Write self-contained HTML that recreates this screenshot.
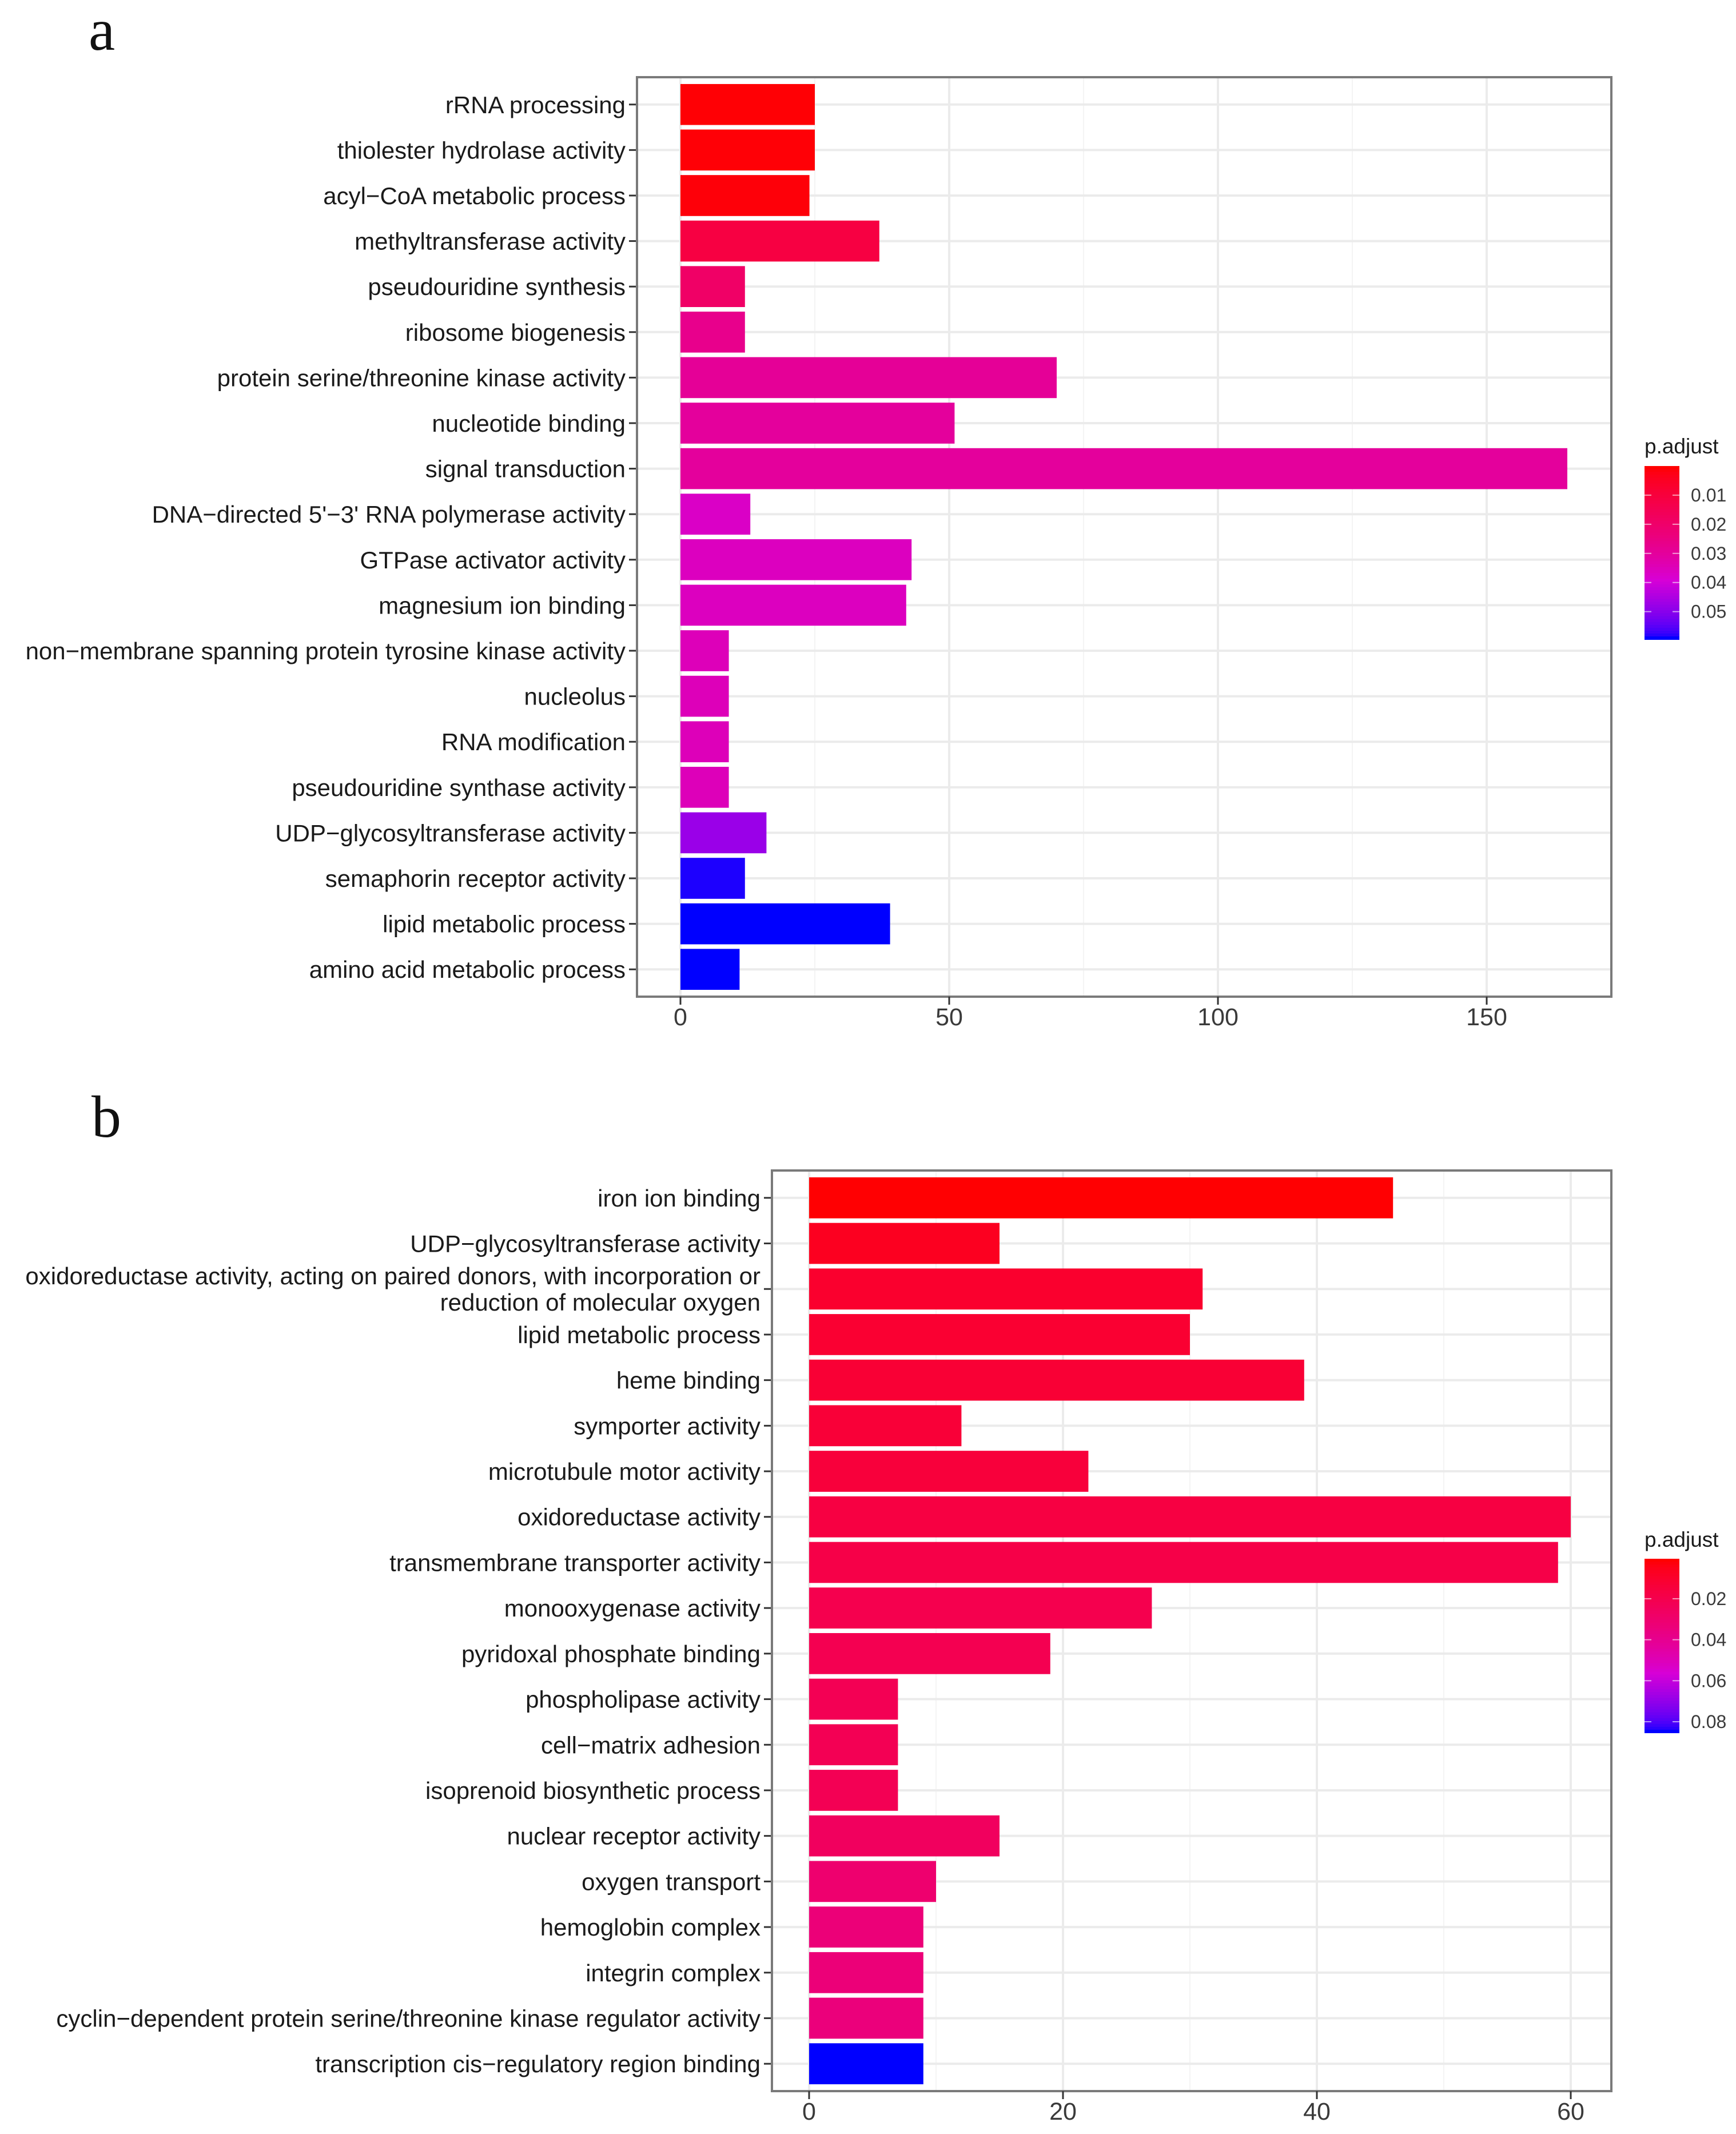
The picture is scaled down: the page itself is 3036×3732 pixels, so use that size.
<!DOCTYPE html>
<html><head><meta charset="utf-8">
<style>
html,body{margin:0;padding:0;background:#fff;}
svg{display:block;}
text{font-family:"Liberation Sans",Arial,sans-serif;}
</style></head>
<body>
<svg id="chart" width="3036" height="3732" viewBox="0 0 3036 3732" xmlns="http://www.w3.org/2000/svg">
<rect x="0" y="0" width="3036" height="3732" fill="#fff"/>
<text x="155" y="87" font-size="104" fill="#111" style="font-family:'Liberation Serif',serif">a</text>
<text x="160" y="1988" font-size="104" fill="#111" style="font-family:'Liberation Serif',serif">b</text>
</svg>
<script>
// ---- Panel a data ----
const catsA = ["rRNA processing","thiolester hydrolase activity","acyl\u2212CoA metabolic process","methyltransferase activity","pseudouridine synthesis","ribosome biogenesis","protein serine/threonine kinase activity","nucleotide binding","signal transduction","DNA\u2212directed 5'\u22123' RNA polymerase activity","GTPase activator activity","magnesium ion binding","non\u2212membrane spanning protein tyrosine kinase activity","nucleolus","RNA modification","pseudouridine synthase activity","UDP\u2212glycosyltransferase activity","semaphorin receptor activity","lipid metabolic process","amino acid metabolic process"];
const countsA = [25,25,24,37,12,12,70,51,165,13,43,42,9,9,9,9,16,12,39,11];
const padjA = [0.0005,0.0006,0.0008,0.011,0.019,0.027,0.029,0.030,0.030,0.037,0.036,0.036,0.035,0.035,0.035,0.035,0.048,0.059,0.0595,0.0595];
const xTicksA = [0,50,100,150];
const legendTicksA = [0.01,0.02,0.03,0.04,0.05];

// ---- Panel b data ----
const catsB = ["iron ion binding","UDP\u2212glycosyltransferase activity","oxidoreductase activity, acting on paired donors, with incorporation or|reduction of molecular oxygen","lipid metabolic process","heme binding","symporter activity","microtubule motor activity","oxidoreductase activity","transmembrane transporter activity","monooxygenase activity","pyridoxal phosphate binding","phospholipase activity","cell\u2212matrix adhesion","isoprenoid biosynthetic process","nuclear receptor activity","oxygen transport","hemoglobin complex","integrin complex","cyclin\u2212dependent protein serine/threonine kinase regulator activity","transcription cis\u2212regulatory region binding"];
const countsB = [46,15,31,30,39,12,22,60,59,27,19,7,7,7,15,10,9,9,9,9];
const padjB = [0.0008,0.006,0.010,0.011,0.012,0.013,0.014,0.016,0.018,0.020,0.021,0.022,0.022,0.022,0.025,0.030,0.033,0.033,0.034,0.0853];
const xTicksB = [0,20,40,60];
const legendTicksB = [0.02,0.04,0.06,0.08];

const NS = "http://www.w3.org/2000/svg";
const svg = document.getElementById('chart');
function mk(tag, attrs, parent){
  const e = document.createElementNS(NS, tag);
  for (const k in attrs) e.setAttribute(k, attrs[k]);
  (parent||svg).appendChild(e);
  return e;
}
function srgbToLin(c){c/=255;return c<=0.04045?c/12.92:Math.pow((c+0.055)/1.055,2.4);}
function linToSrgb(c){c=c<=0.0031308?12.92*c:1.055*Math.pow(c,1/2.4)-0.055;return Math.max(0,Math.min(1,c))*255;}
function rgb2lab(r,g,b){r=srgbToLin(r);g=srgbToLin(g);b=srgbToLin(b);
  let X=(r*0.4124+g*0.3576+b*0.1805)/0.95047,Y=(r*0.2126+g*0.7152+b*0.0722),Z=(r*0.0193+g*0.1192+b*0.9505)/1.08883;
  const f=t=>t>0.008856?Math.cbrt(t):7.787*t+16/116;
  return [116*f(Y)-16,500*(f(X)-f(Y)),200*(f(Y)-f(Z))];}
function lab2rgb(L,a,b){let fy=(L+16)/116,fx=fy+a/500,fz=fy-b/200;
  const fi=t=>t*t*t>0.008856?t*t*t:(t-16/116)/7.787;
  let X=fi(fx)*0.95047,Y=fi(fy),Z=fi(fz)*1.08883;
  let r=X*3.2406+Y*-1.5372+Z*-0.4986,g=X*-0.9689+Y*1.8758+Z*0.0415,bb=X*0.0557+Y*-0.2040+Z*1.0570;
  let R=linToSrgb(r),G=linToSrgb(g),B=linToSrgb(bb);
  const m=Math.max(R,G,B); const s=m>0?1+(255/m-1)*0.5:1;
  R=Math.min(255,R*s);G=Math.min(255,G*s);B=Math.min(255,B*s);
  return 'rgb('+Math.round(R)+','+Math.round(G)+','+Math.round(B)+')';}
const LR = rgb2lab(255,0,0), LB = rgb2lab(0,0,255);
function grad(t){t=Math.max(0,Math.min(1,t));return lab2rgb(LR[0]+(LB[0]-LR[0])*t,LR[1]+(LB[1]-LR[1])*t,LR[2]+(LB[2]-LR[2])*t);}

function panel(o){
  const g = mk('g', {});
  
  
  const n = o.cats.length;
  const pitch = (o.bottom - o.top) / (n - 1 + 1.2);
  const yC = i => o.top + pitch*0.6 + i*pitch;
  const xS = v => o.x0 + v*o.ppu;
  const tickStep = o.ticks[1]-o.ticks[0];
  for (let v = o.ticks[0]-tickStep/2; xS(v) < o.right; v += tickStep) {
    if (xS(v) <= o.left) continue;
    const l = mk('line',{x1:xS(v),x2:xS(v),y1:o.top,y2:o.bottom,stroke:'#f4f4f4','stroke-width':2},g);
    
    
  }
  o.ticks.forEach(v=>{
    const l = mk('line',{x1:xS(v),x2:xS(v),y1:o.top,y2:o.bottom,stroke:'#ebebeb','stroke-width':4},g);
    
    
  });
  o.cats.forEach((c,i)=>{
    const l = mk('line',{x1:o.left,x2:o.right,y1:yC(i),y2:yC(i),stroke:'#ebebeb','stroke-width':4},g);
    
    
  });
  o.cats.forEach((c,i)=>{
    const t = (o.padj[i]-o.pmin)/(o.pmax-o.pmin);
    const h = pitch*0.9;
    const r = mk('rect',{x:xS(0),y:yC(i)-h/2,width:Math.max(0,xS(o.counts[i])-xS(0)),height:h,fill:grad(t)},g);
    
    
    const tk = mk('line',{x1:o.left-14,x2:o.left,y1:yC(i),y2:yC(i),stroke:'#333','stroke-width':3},g);
    
    
    const parts = c.split('|');
    parts.forEach((p,k)=>{
      const off = (k - (parts.length-1)/2) * 46;
      const tx = mk('text',{x:o.left-20,y:yC(i)+off+15,'text-anchor':'end','font-size':42,fill:'#1a1a1a'},g);
      tx.textContent = p;
      
      
    });
  });
  const b = mk('rect',{x:o.left,y:o.top,width:o.right-o.left,height:o.bottom-o.top,fill:'none',stroke:'#7a7a7a','stroke-width':4},g);
  
  
  o.ticks.forEach(v=>{
    const l = mk('line',{x1:xS(v),x2:xS(v),y1:o.bottom,y2:o.bottom+14,stroke:'#333','stroke-width':3},g);
    
    
    const t = mk('text',{x:xS(v),y:o.bottom+50,'text-anchor':'middle','font-size':43,fill:'#3a3a3a'},g);
    t.textContent = String(v);
    
    
  });
  const L = o.leg;
  const lt = mk('text',{x:L.x,y:L.titleY,'font-size':37,fill:'#1a1a1a'},g);
  lt.textContent = 'p.adjust';
  
  
  const steps = 60;
  for (let s=0;s<steps;s++){
    const r = mk('rect',{x:L.x,y:L.y0+(L.y1-L.y0)*s/steps,width:L.w,height:(L.y1-L.y0)/steps+1,fill:grad(s/(steps-1))},g);
    
    
  }
  o.legTicks.forEach(v=>{
    const y = L.y0 + (v-o.pmin)/(o.pmax-o.pmin)*(L.y1-L.y0);
    const a1 = mk('line',{x1:L.x,x2:L.x+12,y1:y,y2:y,stroke:'#fff','stroke-width':2,opacity:0.6},g);
    
    
    const a2 = mk('line',{x1:L.x+L.w-12,x2:L.x+L.w,y1:y,y2:y,stroke:'#fff','stroke-width':2,opacity:0.6},g);
    
    
    const t = mk('text',{x:L.x+L.w+20,y:y+11,'font-size':32,fill:'#3a3a3a'},g);
    t.textContent = v.toFixed(2);
    
    
  });
}

panel({name:'panel-a', cats:catsA, counts:countsA, padj:padjA, ticks:xTicksA, legTicks:legendTicksA,
  left:1114, right:2818, top:135, bottom:1743, x0:1190, ppu:9.4, pmin:0.0, pmax:0.0595,
  leg:{x:2876, w:61, y0:815, y1:1118, titleY:793}});
panel({name:'panel-b', cats:catsB, counts:countsB, padj:padjB, ticks:xTicksB, legTicks:legendTicksB,
  left:1350, right:2818, top:2047, bottom:3657, x0:1415, ppu:22.2, pmin:0.0005, pmax:0.0853,
  leg:{x:2876, w:61, y0:2726, y1:3030, titleY:2705}});
</script>
</body></html>
